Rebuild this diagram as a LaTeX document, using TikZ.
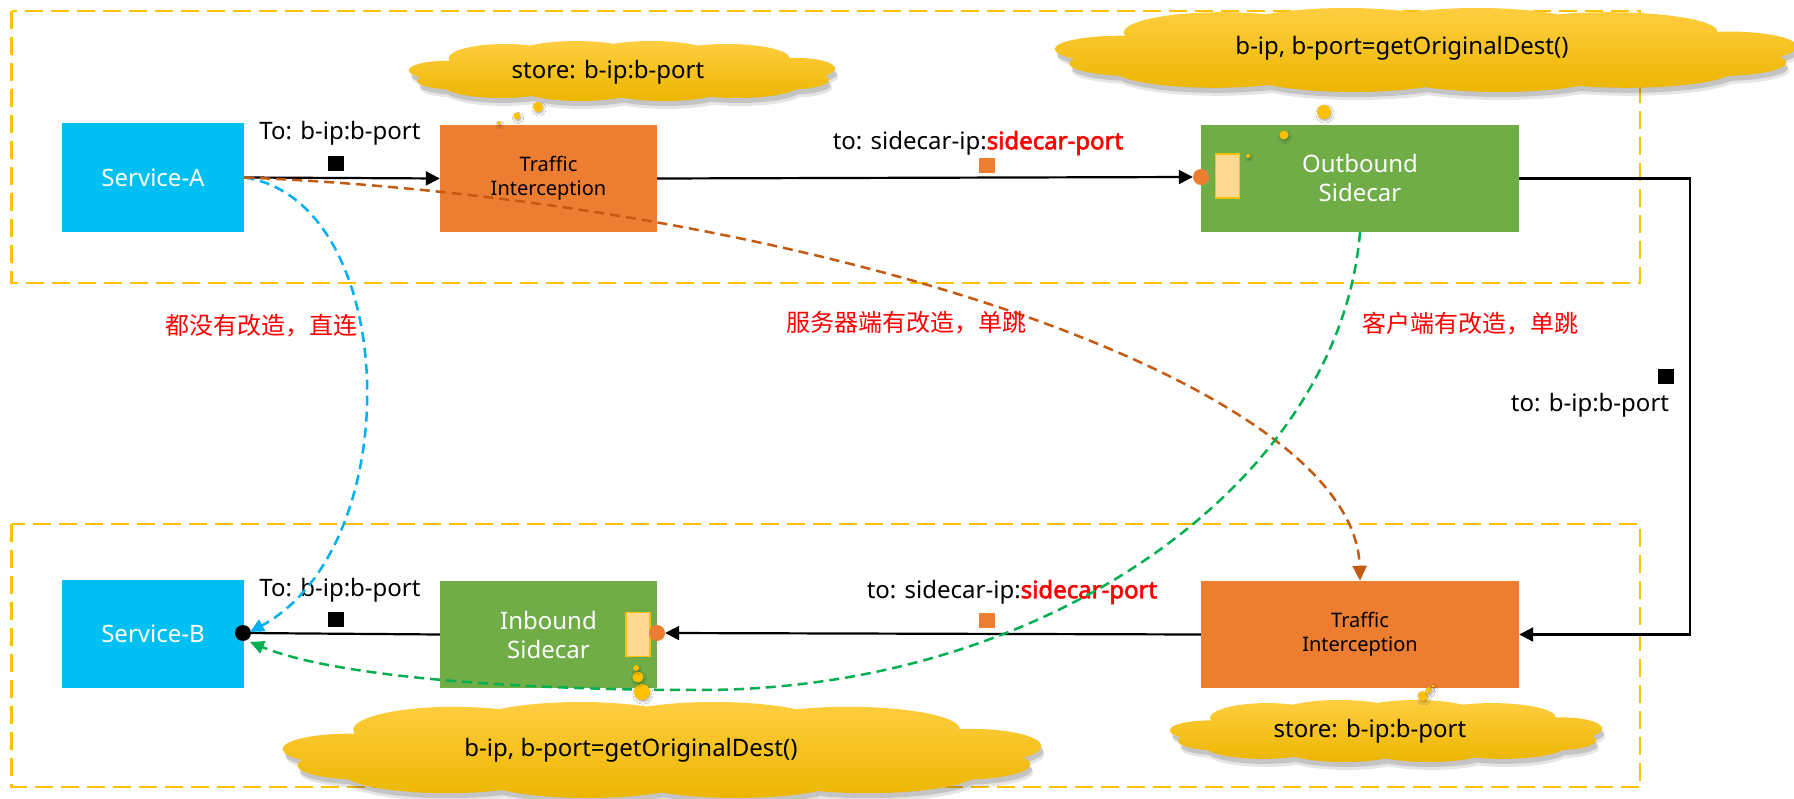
\documentclass[tikz,border=0pt]{standalone}
\usepackage{fontspec}
\setmainfont{Noto Sans}
\newfontfamily\heavy{Noto Sans}[FakeBold=2.5]
\newfontfamily\cjk{Noto Sans CJK SC}
\usetikzlibrary{arrows.meta,shadows.blur}

\definecolor{svc}{RGB}{0,191,243}
\definecolor{tic}{RGB}{237,125,49}
\definecolor{sdc}{RGB}{112,173,71}
\definecolor{zone}{RGB}{255,192,0}
\definecolor{brownline}{RGB}{197,90,17}
\definecolor{greenline}{RGB}{0,176,80}
\definecolor{blueline}{RGB}{0,176,240}
\definecolor{portfill}{RGB}{255,217,145}
\definecolor{cloudtop}{RGB}{255,206,64}
\definecolor{cloudmid}{RGB}{255,194,10}
\definecolor{cloudbot}{RGB}{236,182,0}

\tikzset{
  box/.style={rectangle, inner sep=0pt, align=center},
  service/.style={box, fill=svc, text=white, font=\fontsize{24}{29}\selectfont},
  intercept/.style={box, fill=tic, text=black, font=\fontsize{20}{24}\selectfont},
  sidecar/.style={box, fill=sdc, text=white, font=\fontsize{24}{29}\selectfont},
  zonebox/.style={draw=zone, line width=2.5pt, dash pattern=on 18pt off 8pt},
  flow/.style={line width=2.2pt, -{Triangle[length=14pt,width=14pt]}},
  plain/.style={line width=2.2pt},
  lbl/.style={font=\fontsize{24}{29}\selectfont, inner sep=0pt},
  cnlbl/.style={font=\cjk\fontsize{24}{29}\selectfont, text=red, inner sep=0pt},
  portdot/.style={circle, fill=tic, minimum size=16pt, inner sep=0pt},
  enddot/.style={circle, fill=black, minimum size=16pt, inner sep=0pt},
  portbar/.style={rectangle, fill=portfill, draw=zone, line width=1.5pt,
    minimum width=24pt, minimum height=44pt, inner sep=0pt},
  pkt/.style={rectangle, fill=black, minimum width=16pt, minimum height=15pt, inner sep=0pt},
  opkt/.style={pkt, fill=tic},
  bubble/.style={circle, fill=zone, inner sep=0pt,
    blur shadow={shadow xshift=1pt, shadow yshift=-2pt, shadow blur steps=3, shadow opacity=30}},
  route/.style={line width=2.5pt, dash pattern=on 10pt off 6pt},
}

% lobes of a thought cloud, in a unit box [-1,1]x[-1,1] (y grows downwards)
\newcommand\cloudlobes{%
  (0,0.02) ellipse (0.86 and 0.62)
  (-0.56,-0.42) ellipse (0.27 and 0.48)
  (-0.22,-0.52) ellipse (0.3 and 0.48)
  (0.14,-0.53) ellipse (0.3 and 0.47)
  (0.5,-0.44) ellipse (0.3 and 0.46)
  (-0.84,-0.02) ellipse (0.18 and 0.32)
  (0.83,-0.08) ellipse (0.19 and 0.36)
  (-0.8,0.32) ellipse (0.18 and 0.3)
  (0.8,0.3) ellipse (0.19 and 0.32)
  (-0.58,0.46) ellipse (0.28 and 0.44)
  (-0.2,0.54) ellipse (0.3 and 0.46)
  (0.2,0.55) ellipse (0.3 and 0.45)
  (0.55,0.46) ellipse (0.3 and 0.44)}
% \thoughtcloud{cx}{cy}{half width}{half height}
\newcommand\thoughtcloud[4]{%
  \begin{scope}[shift={(#1+3,#2+8)}, xscale=#3, yscale=#4]
    \fill[black, opacity=.10] \cloudlobes;
  \end{scope}
  \begin{scope}[shift={(#1+2,#2+5)}, xscale=#3, yscale=#4]
    \fill[black, opacity=.14] \cloudlobes;
  \end{scope}
  \begin{scope}[shift={(#1,#2)}, xscale=#3, yscale=#4]
    \shade[top color=cloudtop, middle color=cloudmid, bottom color=cloudbot] \cloudlobes;
  \end{scope}}

\begin{document}
\begin{tikzpicture}[x=1pt,y=-1pt]
\useasboundingbox[fill=white] (0,0) rectangle (1794,799);

% zones
\draw[zonebox] (11.5,11) rectangle (1640,283);
\draw[zonebox] (11.5,524) rectangle (1640,787);

% components
\node[service, minimum width=182pt, minimum height=109pt] (sa) at (153,177.5) {Service-A};
\node[intercept, minimum width=217pt, minimum height=107pt] (ti1) at (548.5,178.5) {Traffic\\Interception};
\node[sidecar, minimum width=318pt, minimum height=107pt] (os) at (1360,178.5) {Outbound\\Sidecar};
\node[service, minimum width=182pt, minimum height=108pt] (sb) at (153,634) {Service-B};
\node[sidecar, minimum width=217pt, minimum height=107pt] (is) at (548.5,634.5) {Inbound\\Sidecar};
\node[intercept, minimum width=318pt, minimum height=107pt] (ti2) at (1360,634.5) {Traffic\\Interception};

% sidecar ports
\node[portbar] (obar) at (1227.5,176) {};
\node[portbar] (ibar) at (638,634.5) {};
\node[portdot] (op) at (1201,177) {};
\node[portdot] (ip) at (657,633) {};
\node[enddot] (bd) at (243,633) {};

% main traffic path
\coordinate (rc) at (1690,400);
\draw[flow] (sa.east) -- (ti1.west);
\draw[flow] (ti1.east) -- (op.west);
\draw[flow] (os.east) -| (rc) |- (ti2.east);
\draw[flow] (ti2.west) -- (ip.east);
\draw[plain] (is.west) -- (bd.center);

% packet labels
\node[lbl] (l1) at (340,133) {To: b-ip:b-port};
\node[pkt] (p1) at (336,163.5) {};
\node[lbl] (l2) at (978,143) {to: sidecar-ip:\textcolor{red}{\heavy sidecar-port}};
\node[opkt] (p2) at (986.5,165.5) {};
\node[lbl] (l3) at (1590,405) {to: b-ip:b-port};
\node[pkt] (p3) at (1665.5,376.5) {};
\node[lbl] (l4) at (1012,592) {to: sidecar-ip:\textcolor{red}{\heavy sidecar-port}};
\node[opkt] (p4) at (986.5,620.5) {};
\node[lbl] (l5) at (340,590) {To: b-ip:b-port};
\node[pkt] (p5) at (336,619.5) {};

% alternative routes
\draw[route, draw=blueline, -{Triangle[length=14pt,width=13pt]}]
  (sa.east) .. controls (400,200) and (410,545) .. (250,632);
\draw[route, draw=brownline, -{Triangle[length=15pt,width=14pt]}]
  (sa.east) .. controls (800,200) and (1355,380) .. (ti2.north);
\draw[route, draw=greenline, -{Triangle[length=14pt,width=13pt]}]
  (os.south) .. controls (1340,480) and (1050,690) .. (700,690)
  .. controls (500,690) and (330,675) .. (250,642);

\node[cnlbl] (c1) at (261,326) {都没有改造，直连};
\node[cnlbl] (c2) at (906,323) {服务器端有改造，单跳};
\node[cnlbl] (c3) at (1470,324) {客户端有改造，单跳};

% thought clouds
\thoughtcloud{622}{71}{209}{30}
\node[lbl] (t1) at (608,72) {store: b-ip:b-port};
\thoughtcloud{1426}{50}{364}{42}
\node[lbl] (t2) at (1402,48) {b-ip, b-port=getOriginalDest()};
\thoughtcloud{662}{750}{372}{48}
\node[lbl] (t3) at (631,750) {b-ip, b-port=getOriginalDest()};
\thoughtcloud{1386}{731}{212}{31}
\node[lbl] (t4) at (1370,731) {store: b-ip:b-port};

% bubble trails
\node[bubble, minimum size=10pt] (b11) at (538,107) {};
\node[bubble, minimum size=7pt] (b12) at (517,116) {};
\node[bubble, minimum size=4pt] (b13) at (499,123) {};
\node[bubble, minimum size=14pt] (b21) at (1324,112) {};
\node[bubble, minimum size=9pt] (b22) at (1284,135) {};
\node[bubble, minimum size=4pt] (b23) at (1248,156) {};
\node[bubble, minimum size=16pt] (b31) at (642,692) {};
\node[bubble, minimum size=11pt] (b32) at (638,677) {};
\node[bubble, minimum size=6pt] (b33) at (636,668) {};
\node[bubble, minimum size=10pt] (b41) at (1423,696) {};
\node[bubble, minimum size=6pt] (b42) at (1429,690) {};
\node[bubble, minimum size=3pt] (b43) at (1433,686) {};
\end{tikzpicture}
\end{document}
